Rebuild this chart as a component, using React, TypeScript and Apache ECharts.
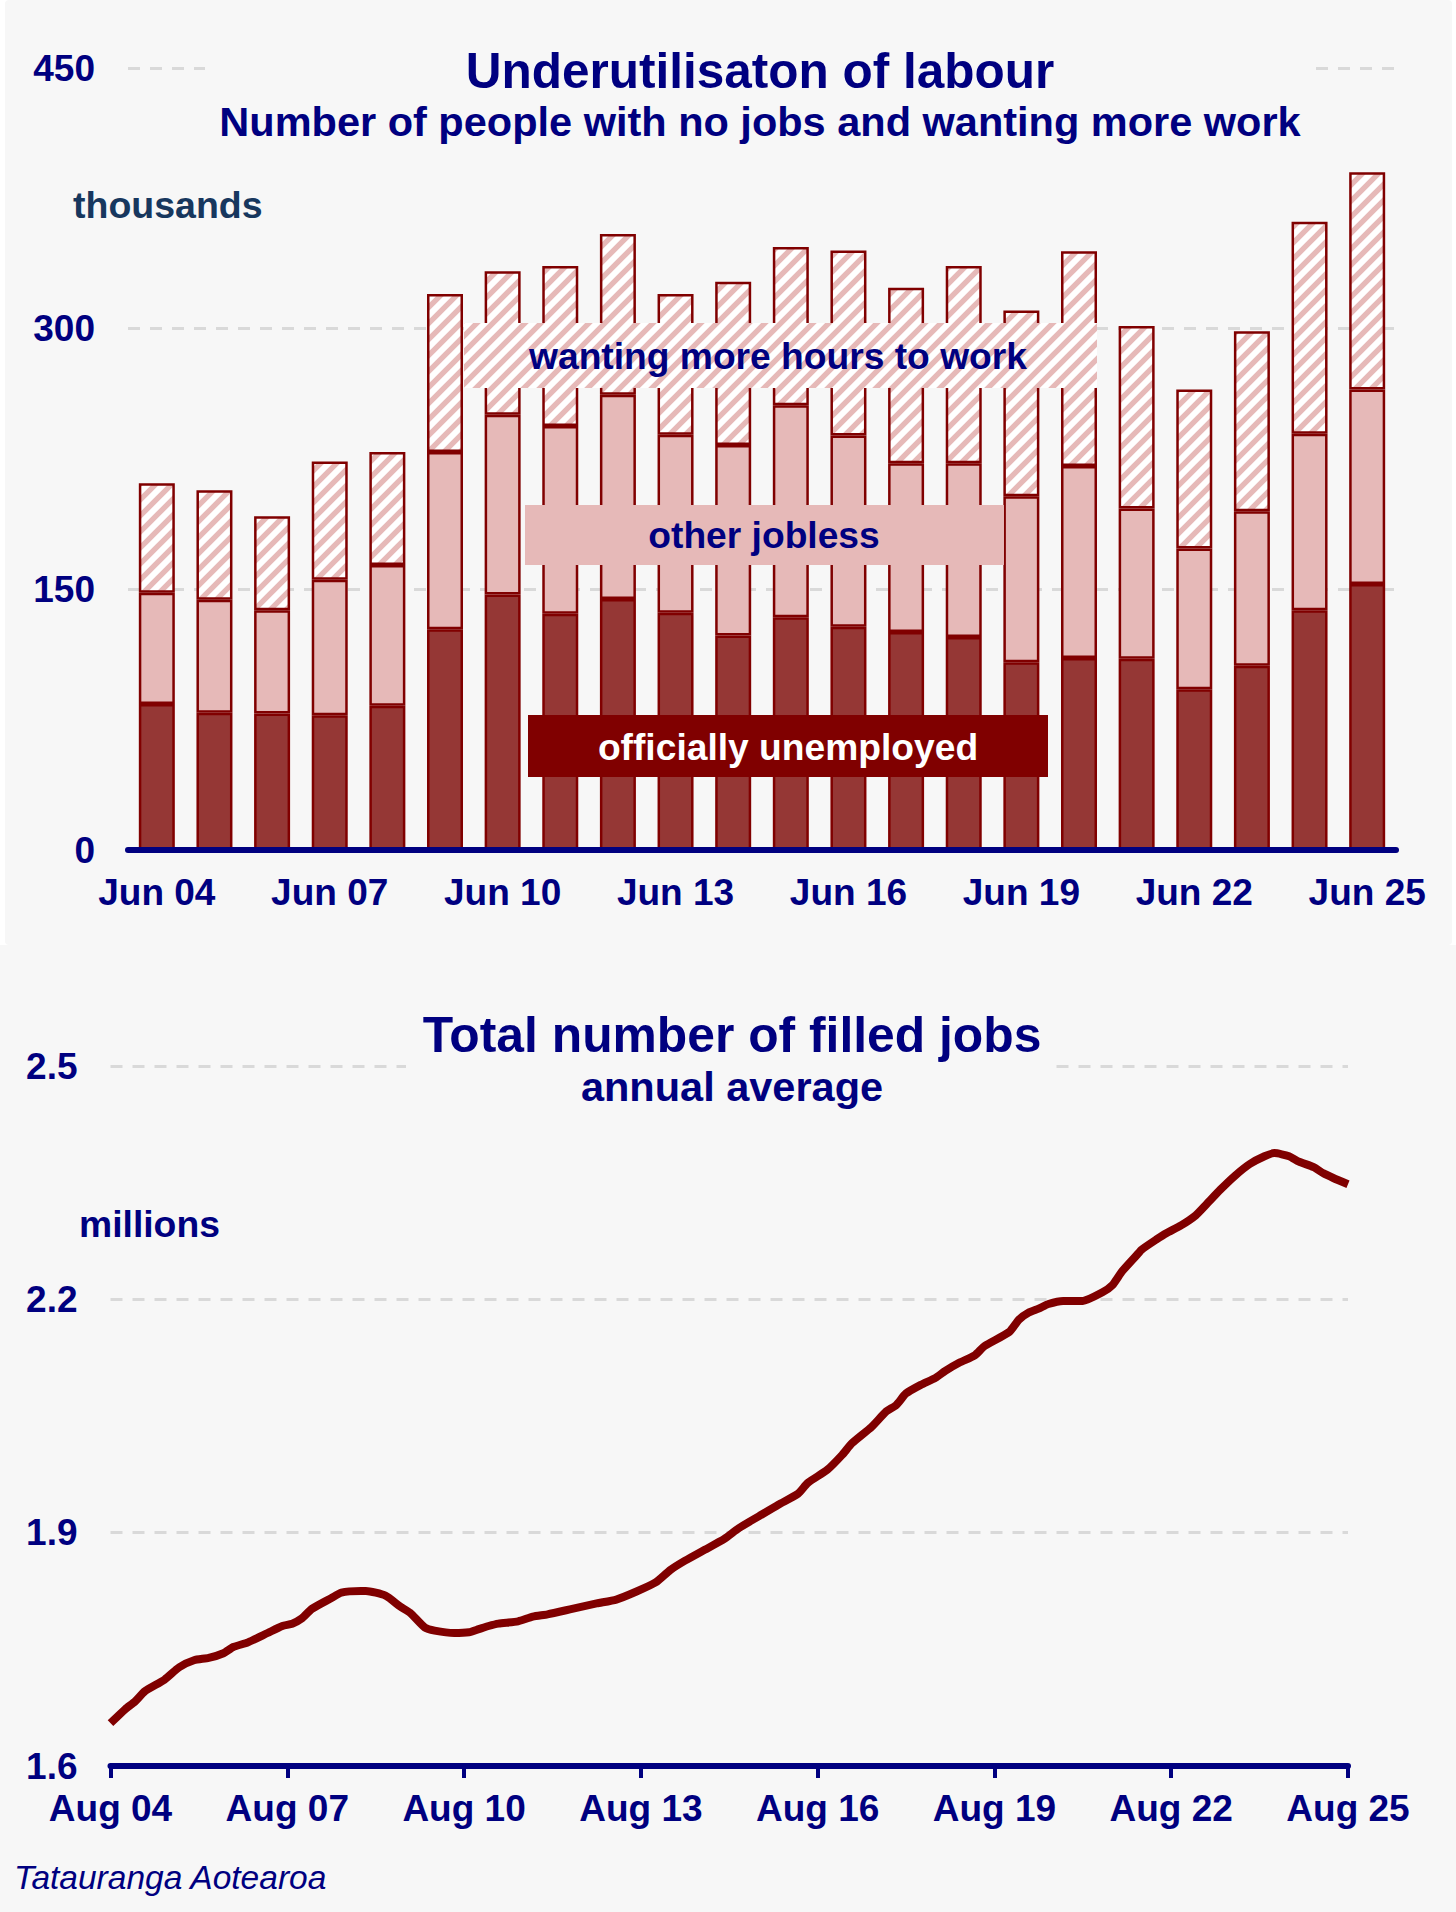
import React, { useEffect, useRef } from "react";
import * as echarts from "echarts";

// ---------- Top chart: underutilisation (thousands) ----------
const underCategories = [
  "Jun 04", "Jun 05", "Jun 06", "Jun 07", "Jun 08", "Jun 09", "Jun 10", "Jun 11",
  "Jun 12", "Jun 13", "Jun 14", "Jun 15", "Jun 16", "Jun 17", "Jun 18", "Jun 19",
  "Jun 20", "Jun 21", "Jun 22", "Jun 23", "Jun 24", "Jun 25",
];
const officiallyUnemployed = [
  84, 79, 78.5, 77.5, 83, 127, 147, 136, 144.5, 136.5, 123.5,
  134, 128.5, 125.5, 122.5, 108, 110.5, 110, 92.5, 106, 138, 153,
];
const otherJobless = [
  64, 65, 59.5, 78, 81, 102, 103.5, 108, 117.5, 102.5, 109.5,
  122, 110, 97, 100, 95.5, 110.5, 86.5, 81, 89, 101.5, 112,
];
const wantingMoreHours = [
  63, 63, 54, 68, 65, 91, 82.5, 92, 92.5, 81, 94,
  91, 106.5, 101, 113.5, 107, 123.5, 105, 91.5, 103.5, 122, 125,
];
const underTickMin = 0;
const underTickMax = 450;
const underTickStep = 150;

// ---------- Bottom chart: filled jobs (millions, annual average) ----------
const jobsMonths = [
  "2004-08", "2004-11", "2005-01", "2005-03", "2005-07", "2005-10", "2006-01", "2006-04",
  "2006-07", "2006-09", "2006-12", "2007-04", "2007-07", "2007-09", "2007-11", "2008-01",
  "2008-05", "2008-07", "2008-11", "2008-12", "2009-04", "2009-07", "2009-09", "2009-12",
  "2010-02", "2010-06", "2010-09", "2010-11", "2011-01", "2011-03", "2011-07", "2011-10",
  "2012-01", "2012-06", "2012-11", "2013-03", "2013-07", "2013-11", "2014-02", "2014-05",
  "2014-09", "2015-01", "2015-04", "2015-08", "2015-12", "2016-04", "2016-06", "2016-10",
  "2017-01", "2017-03", "2017-07", "2017-10", "2017-12", "2018-02", "2018-05", "2018-08",
  "2018-10", "2019-01", "2019-04", "2019-06", "2019-11", "2020-01", "2020-03", "2020-05",
  "2020-07", "2020-10", "2021-02", "2021-06", "2021-08", "2021-10", "2022-01", "2022-02",
  "2022-05", "2022-07", "2022-10", "2023-01", "2023-03", "2023-06", "2023-09", "2023-12",
  "2024-03", "2024-05", "2024-08", "2024-10", "2025-01", "2025-03", "2025-05", "2025-08",
];
const jobsMillions = [
  1.655, 1.673, 1.683, 1.696, 1.711, 1.727, 1.736, 1.739,
  1.745, 1.753, 1.759, 1.771, 1.780, 1.783, 1.790, 1.802,
  1.816, 1.823, 1.825, 1.825, 1.819, 1.805, 1.797, 1.778,
  1.774, 1.771, 1.772, 1.776, 1.780, 1.783, 1.786, 1.792,
  1.795, 1.802, 1.809, 1.814, 1.824, 1.836, 1.852, 1.864,
  1.878, 1.892, 1.906, 1.921, 1.936, 1.950, 1.964, 1.981,
  2.000, 2.015, 2.036, 2.056, 2.064, 2.079, 2.090, 2.099,
  2.108, 2.119, 2.128, 2.140, 2.158, 2.174, 2.183, 2.188,
  2.194, 2.198, 2.198, 2.209, 2.218, 2.236, 2.257, 2.264,
  2.277, 2.285, 2.295, 2.308, 2.321, 2.341, 2.359, 2.374,
  2.384, 2.388, 2.384, 2.377, 2.370, 2.362, 2.356, 2.348,
];
const jobsTickMin = 1.6;
const jobsTickMax = 2.5;
const jobsTickStep = 0.3;
const jobsStartYear = 2004;
const jobsStartMonth = 8;
const jobsXTickStepMonths = 36;
const jobsXMaxMonths = 252;

// ---------- styling ----------
const NAVY = "#000080";
const DARK_RED = "#800000";
const UNEMP_FILL = "#953735";
const PINK = "#e6b9b8";
const GRID_GREY = "#d9d9d9";
const BG = "#f7f7f7";
const FONT = "'Liberation Sans', Arial, Helvetica, sans-serif";

const T = 16;
const hatchSvg =
  `<svg xmlns='http://www.w3.org/2000/svg' width='${T}' height='${T}'>` +
  `<rect width='${T}' height='${T}' fill='#ffffff'/>` +
  `<path d='M${-T / 4},${T / 4} L${T / 4},${-T / 4} M0,${T} L${T},0 M${(3 * T) / 4},${(5 * T) / 4} L${(5 * T) / 4},${(3 * T) / 4}' stroke='` +
  PINK +
  `' stroke-width='5.4' stroke-linecap='square'/></svg>`;
const hatchUrl = "data:image/svg+xml;charset=utf-8," + encodeURIComponent(hatchSvg);
const hatch = () => ({ image: hatchUrl, repeat: "repeat", imageWidth: T, imageHeight: T });

function monthIndex(s: string): number {
  const [y, m] = s.split("-").map(Number);
  return (y - jobsStartYear) * 12 + (m - jobsStartMonth);
}

function txt(
  text: string,
  x: number,
  y: number,
  size: number,
  opts: { weight?: string; style?: string; color?: string; align?: string } = {}
) {
  return {
    type: "text",
    x,
    y,
    z: 30,
    style: {
      text,
      fill: opts.color || NAVY,
      font: `${opts.style || "normal"} ${opts.weight || "bold"} ${size}px ${FONT}`,
      align: opts.align || "center",
      verticalAlign: "middle",
    },
  };
}

function box(x: number, y: number, w: number, h: number, fill: any) {
  return { type: "rect", z: 25, shape: { x, y, width: w, height: h }, style: { fill, stroke: null } };
}

export default function App() {
  const ref = useRef<HTMLDivElement>(null);

  useEffect(() => {
    if (!ref.current) return;
    const chart = echarts.init(ref.current, undefined, { renderer: "svg", width: 1456, height: 1912 });

    const barBase = {
      type: "bar",
      stack: "under",
      xAxisIndex: 0,
      yAxisIndex: 0,
      barWidth: 36,
      emphasis: { disabled: true },
      z: 2,
    };

    const tickFont = { color: NAVY, fontSize: 37, fontWeight: "bold", fontFamily: FONT };

    const option: any = {
      animation: false,
      backgroundColor: "transparent",
      textStyle: { fontFamily: FONT },
      grid: [
        { left: 128, right: 60, top: 68, bottom: 1912 - 850, containLabel: false },
        { left: 110.5, right: 108, top: 1066, bottom: 1912 - 1766, containLabel: false },
      ],
      xAxis: [
        {
          type: "category",
          gridIndex: 0,
          data: underCategories,
          boundaryGap: true,
          z: 3,
          axisLine: { show: true, lineStyle: { color: NAVY, width: 6 } },
          axisTick: { show: false },
          axisLabel: { ...tickFont, interval: 2, margin: 24 },
          splitLine: { show: false },
        },
        {
          type: "value",
          gridIndex: 1,
          min: 0,
          max: jobsXMaxMonths,
          interval: jobsXTickStepMonths,
          z: 3,
          axisLine: { show: true, lineStyle: { color: NAVY, width: 6 } },
          axisTick: { show: true, length: 12, lineStyle: { color: NAVY, width: 4 } },
          axisLabel: {
            ...tickFont,
            margin: 24,
            formatter: (v: number) => {
              const yy = (jobsStartYear + Math.floor((jobsStartMonth - 1 + v) / 12)) % 100;
              return "Aug " + String(yy).padStart(2, "0");
            },
          },
          splitLine: { show: false },
        },
      ],
      yAxis: [
        {
          type: "value",
          gridIndex: 0,
          min: underTickMin,
          max: underTickMax,
          interval: underTickStep,
          axisLine: { show: false },
          axisTick: { show: false },
          axisLabel: { ...tickFont, margin: 33 },
          splitLine: { show: true, lineStyle: { color: GRID_GREY, width: 3, type: [12, 10] } },
        },
        {
          type: "value",
          gridIndex: 1,
          min: jobsTickMin,
          max: jobsTickMax,
          interval: jobsTickStep,
          axisLine: { show: false },
          axisTick: { show: false },
          axisLabel: { ...tickFont, margin: 33, formatter: (v: number) => v.toFixed(1) },
          splitLine: { show: true, lineStyle: { color: GRID_GREY, width: 3, type: [12, 10] } },
        },
      ],
      series: [
        {
          ...barBase,
          name: "officially unemployed",
          data: officiallyUnemployed,
          itemStyle: { color: UNEMP_FILL, borderColor: DARK_RED, borderWidth: 2.5 },
        },
        {
          ...barBase,
          name: "other jobless",
          data: otherJobless,
          itemStyle: { color: PINK, borderColor: DARK_RED, borderWidth: 2.5 },
        },
        {
          ...barBase,
          name: "wanting more hours to work",
          data: wantingMoreHours,
          itemStyle: { color: hatch(), borderColor: DARK_RED, borderWidth: 2.5 },
        },
        {
          type: "line",
          name: "filled jobs",
          xAxisIndex: 1,
          yAxisIndex: 1,
          data: jobsMonths.map((m, i) => [monthIndex(m), jobsMillions[i]]),
          showSymbol: false,
          symbol: "none",
          smooth: 0.2,
          emphasis: { disabled: true },
          lineStyle: { color: DARK_RED, width: 8, cap: "butt", join: "round" },
          z: 4,
        },
      ],
      graphic: {
        elements: [
          // top chart title block
          { type: "rect", z: 10, shape: { x: 205, y: 38, width: 1105, height: 110 }, style: { fill: BG } },
          txt("Underutilisaton of labour", 760, 70, 49.5),
          txt("Number of people with no jobs and wanting more work", 760, 121, 41.5),
          txt("thousands", 73, 205, 37.5, { align: "left", color: "#17375e" }),
          // series labels
          box(464, 323, 633, 65, hatch()),
          txt("wanting more hours to work", 778, 356, 37.2),
          box(525, 505, 479, 60, PINK),
          txt("other jobless", 764, 535, 37.2),
          box(528, 715, 520, 62, DARK_RED),
          txt("officially unemployed", 788, 747, 37.2, { color: "#ffffff" }),
          // bottom chart title block
          { type: "rect", z: 10, shape: { x: 406, y: 1000, width: 649, height: 112 }, style: { fill: BG } },
          txt("Total number of filled jobs", 732, 1035, 49.8),
          txt("annual average", 732, 1086, 41.5),
          txt("millions", 79, 1224, 37.3, { align: "left" }),
          txt("Tatauranga Aotearoa", 14, 1877, 33.5, { align: "left", weight: "normal", style: "italic" }),
        ],
      },
    };

    chart.setOption(option);
    return () => chart.dispose();
  }, []);

  return (
    <div
      style={{
        position: "absolute",
        left: 0,
        top: 0,
        width: 1456,
        height: 1912,
        background: "#ffffff",
        overflow: "hidden",
      }}
    >
      <div
        style={{
          position: "absolute",
          left: 5,
          top: 0,
          width: 1447,
          height: 945,
          background: BG,
          borderRadius: 4,
        }}
      />
      <div style={{ position: "absolute", left: 0, top: 945, width: 1456, height: 967, background: BG }} />
      <div ref={ref} style={{ position: "absolute", left: 0, top: 0, width: 1456, height: 1912 }} />
    </div>
  );
}
